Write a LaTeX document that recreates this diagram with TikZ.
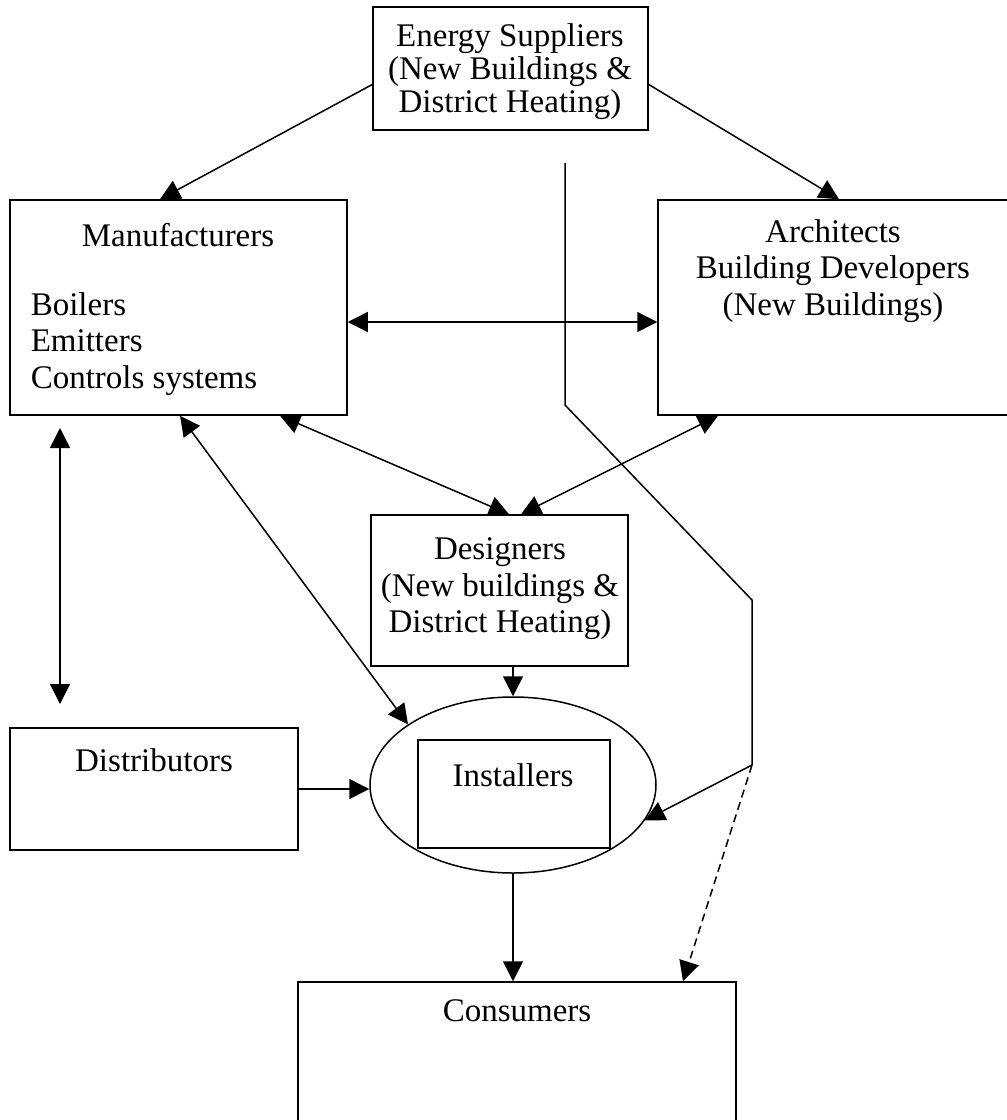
\documentclass[tikz,border=0pt]{standalone}
\usepackage{fontspec}
\setmainfont{Liberation Serif}
\usetikzlibrary{arrows.meta,shapes.geometric}

\begin{document}
\begin{tikzpicture}[x=1pt,y=-1pt,line width=1.5pt,
box/.style={draw, rectangle, inner sep=0pt},
txt/.style={align=center, inner sep=0pt, font=\fontsize{33}{36.5}\selectfont},
tip/.style={-{Triangle[length=20pt,width=20pt]}},
both/.style={{Triangle[length=20pt,width=20pt]}-{Triangle[length=20pt,width=20pt]}}]
    \useasboundingbox (0,0) rectangle (1007,1120);
    \clip (0,0) rectangle (1007,1120);

    \node[box, minimum width=275pt, minimum height=123pt] (energy) at (510.5,68.5) {};
    \node[box, minimum width=337pt, minimum height=215pt] (manu) at (178.5,307.5) {};
    \node[box, minimum width=362pt, minimum height=215pt] (arch) at (839,307.5) {};
    \node[box, minimum width=257pt, minimum height=151pt] (design) at (499.5,590.5) {};
    \node[box, minimum width=288pt, minimum height=122pt] (dist) at (154,789) {};
    \node[box, minimum width=438pt, minimum height=168pt] (cons) at (517,1066) {};
    \node[draw, ellipse, inner sep=0pt, minimum width=286pt, minimum height=176pt] (inst) at (513,785) {};
    \node[box, minimum width=192pt, minimum height=108pt] (instbox) at (514,794) {};

    \node[txt, font=\fontsize{33}{33}\selectfont] (energytxt) at (510,72) {Energy Suppliers\\(New Buildings \&\\District Heating)};
    \node[txt] (manutitle) at (178,235) {Manufacturers};
    \node[txt, align=left, anchor=west] (manulist) at (30,344) {Boilers\\Emitters\\Controls systems};
    \node[txt] (archtxt) at (833,271) {Architects\\Building Developers\\(New Buildings)};
    \node[txt] (designtxt) at (500,589) {Designers\\(New buildings \&\\District Heating)};
    \node[txt] (insttxt) at (513,775) {Installers};
    \node[txt] (disttxt) at (154,760) {Distributors};
    \node[txt] (constxt) at (517,1011) {Consumers};

    \coordinate (etop) at (565,163);
    \coordinate (ebend) at (565,405);
    \coordinate (eknee) at (752,600);
    \coordinate (esplit) at (752,765);
    \coordinate (mdtop) at (60,428);
    \coordinate (mdbot) at (60,704);

    \draw[tip] ([yshift=-16pt]energy.west) -- ([xshift=-18.5pt]manu.north);
    \draw[tip] ([yshift=-16pt]energy.east) -- (arch.north);
    \draw[both] ([yshift=-14.5pt]manu.east) -- ([yshift=-14.5pt]arch.west);
    \draw[both] ([xshift=101.5pt]manu.south) -- ([xshift=9.5pt]design.north);
    \draw[both] ([xshift=-121pt]arch.south) -- ([xshift=21.5pt]design.north);
    \draw[both] ([xshift=1.5pt]manu.south) -- (inst.150);
    \draw[both] (mdtop) -- (mdbot);
    \draw[tip] (design.south -| inst.north) -- (inst.north);
    \draw[tip] (dist.east) -- (dist.east -| inst.west);
    \draw[tip] (inst.south) -- (inst.south |- cons.north);
    \draw (etop) -- (ebend) -- (eknee) -- (esplit);
    \draw[tip] (esplit) -- (inst.-15);
    \draw[tip, dash pattern=on 8pt off 5pt] (esplit) -- ([xshift=166pt]cons.north);
\end{tikzpicture}
\end{document}
